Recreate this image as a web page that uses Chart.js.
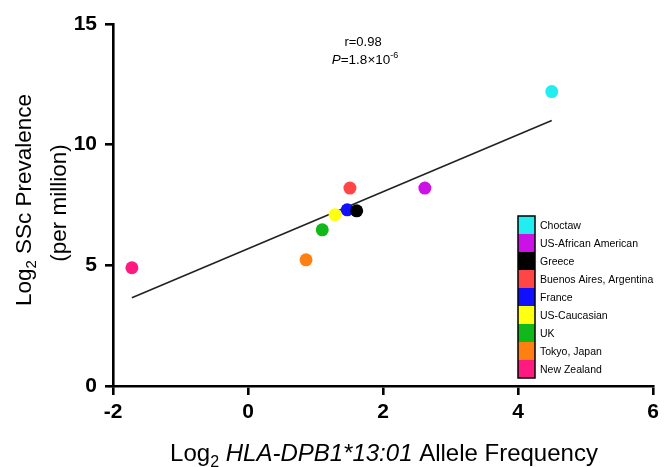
<!DOCTYPE html>
<html>
<head>
<meta charset="utf-8">
<script src="https://cdn.jsdelivr.net/npm/chart.js@4.4.1/dist/chart.umd.min.js"></script>
<style>
  html, body { margin: 0; padding: 0; background: #ffffff; }
  #wrap { width: 664px; height: 467px; }
</style>
</head>
<body>
<div id="wrap"><canvas id="c" width="664" height="467"></canvas></div>
<script>
// ---- data ----
const populations = ["Choctaw", "US-African American", "Greece", "Buenos Aires, Argentina", "France", "US-Caucasian", "UK", "Tokyo, Japan", "New Zealand"];
const alleleLog2 = [4.50, 2.62, 1.61, 1.51, 1.47, 1.29, 1.10, 0.86, -1.72];
const prevalenceLog2 = [12.2, 8.2, 7.26, 8.2, 7.3, 7.1, 6.47, 5.23, 4.9];
const popColors = ["#22eef2", "#cc11e6", "#000000", "#ff4545", "#1010ff", "#ffff10", "#10b81a", "#ff8010", "#ff1a82"];
const fitX = [-1.72, 4.5];
const fitY = [3.66, 11.0];
const xTicks = [-2, 0, 2, 4, 6];
const yTicks = [0, 5, 10, 15];
const statR = "r=0.98";
const statP = { base: "=1.8\u00d710", exp: "-6" };

const FONT = "'Liberation Sans', Arial, Helvetica, sans-serif";

const datasets = populations.map((name, i) => ({
  label: name,
  type: 'scatter',
  data: [{ x: alleleLog2[i], y: prevalenceLog2[i] }],
  backgroundColor: popColors[i],
  borderColor: popColors[i],
  borderWidth: 0,
  pointRadius: 6.5,
  pointHoverRadius: 6.5,
  order: 1
}));
datasets.push({
  label: 'fit',
  type: 'line',
  data: fitX.map((x, i) => ({ x: x, y: fitY[i] })),
  borderColor: '#222222',
  borderWidth: 1.6,
  pointRadius: 0,
  fill: false,
  order: 2
});

const textPlugin = {
  id: 'texts',
  afterDraw(chart) {
    const ctx = chart.ctx;
    ctx.save();
    ctx.fillStyle = '#000';
    ctx.textBaseline = 'alphabetic';

    // stats
    ctx.font = "13px " + FONT;
    ctx.textAlign = 'center';
    ctx.fillText(statR, 363, 46);
    ctx.font = "italic 13.5px " + FONT;
    const pW = ctx.measureText("P").width;
    ctx.font = "13.5px " + FONT;
    const bW = ctx.measureText(statP.base).width;
    ctx.font = "9px " + FONT;
    const eW = ctx.measureText(statP.exp).width;
    let sx = 365 - (pW + bW + eW) / 2;
    ctx.textAlign = 'left';
    ctx.font = "italic 13.5px " + FONT;
    ctx.fillText("P", sx, 64); sx += pW;
    ctx.font = "13.5px " + FONT;
    ctx.fillText(statP.base, sx, 64); sx += bW;
    ctx.font = "9px " + FONT;
    ctx.fillText(statP.exp, sx, 58);

    // legend
    const lx = 518, ly = 216, bw = 17, bh = 18;
    populations.forEach((name, i) => {
      ctx.fillStyle = popColors[i];
      ctx.fillRect(lx, ly + i * bh, bw, bh);
      ctx.fillStyle = '#000';
      ctx.font = "10.5px " + FONT;
      ctx.textAlign = 'left';
      ctx.textBaseline = 'middle';
      ctx.fillText(name, lx + bw + 5, ly + i * bh + bh / 2 + 1);
    });
    ctx.strokeStyle = '#000';
    ctx.lineWidth = 1.5;
    ctx.strokeRect(lx, ly, bw, bh * populations.length);
    ctx.textBaseline = 'alphabetic';

    // x title
    drawParts(ctx, [
      { t: "Log", f: "24px " + FONT, dy: 0 },
      { t: "2", f: "16px " + FONT, dy: 6 },
      { t: " HLA-DPB1*13:01", f: "italic 24px " + FONT, dy: 0 },
      { t: " Allele Frequency", f: "24px " + FONT, dy: 0 }
    ], 384, 461);

    // y title
    ctx.save();
    ctx.translate(31, 200);
    ctx.rotate(-Math.PI / 2);
    drawParts(ctx, [
      { t: "Log", f: "22.5px " + FONT, dy: 0 },
      { t: "2", f: "15px " + FONT, dy: 5 },
      { t: " SSc Prevalence", f: "22.5px " + FONT, dy: 0 }
    ], 0, 0);
    ctx.restore();
    ctx.save();
    ctx.translate(66, 203);
    ctx.rotate(-Math.PI / 2);
    drawParts(ctx, [{ t: "(per million)", f: "22.5px " + FONT, dy: 0 }], 0, 0);
    ctx.restore();

    ctx.restore();
  }
};

function drawParts(ctx, parts, cx, by) {
  let total = 0;
  parts.forEach(p => { ctx.font = p.f; p.w = ctx.measureText(p.t).width; total += p.w; });
  let x = cx - total / 2;
  ctx.textAlign = 'left';
  ctx.fillStyle = '#000';
  parts.forEach(p => { ctx.font = p.f; ctx.fillText(p.t, x, by + p.dy); x += p.w; });
}

new Chart(document.getElementById('c'), {
  type: 'scatter',
  data: { datasets: datasets },
  plugins: [textPlugin],
  options: {
    responsive: false,
    animation: false,
    events: [],
    layout: { padding: { left: 0, right: 11, top: 24, bottom: 0 } },
    plugins: { legend: { display: false }, tooltip: { enabled: false } },
    scales: {
      x: {
        type: 'linear', min: -2, max: 6,
        afterBuildTicks(s) { s.ticks = xTicks.map(v => ({ value: v })); },
        afterFit(s) { s.height = 81; },
        border: { display: true, color: '#000', width: 2.6 },
        grid: { drawOnChartArea: false, drawTicks: true, tickLength: 9, color: '#000', lineWidth: 2.6 },
        ticks: { color: '#000', padding: 5, font: { family: FONT, size: 21, weight: 'bold' } }
      },
      y: {
        type: 'linear', min: 0, max: 15,
        afterBuildTicks(s) { s.ticks = yTicks.map(v => ({ value: v })); },
        afterFit(s) { s.width = 113; },
        border: { display: true, color: '#000', width: 2.6 },
        grid: { drawOnChartArea: false, drawTicks: true, tickLength: 8, color: '#000', lineWidth: 2.6 },
        ticks: { color: '#000', padding: 8, font: { family: FONT, size: 21, weight: 'bold' } }
      }
    }
  }
});
</script>
</body>
</html>
